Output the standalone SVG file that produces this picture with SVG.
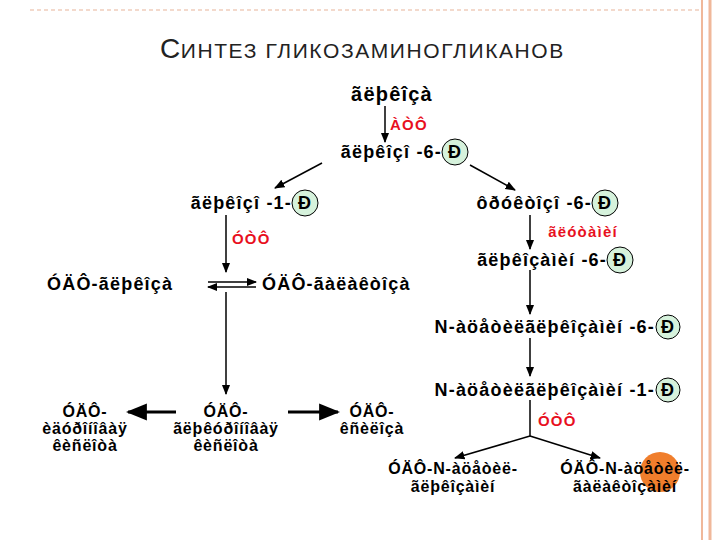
<svg xmlns="http://www.w3.org/2000/svg" width="720" height="540" viewBox="0 0 720 540">
<defs>
<marker id="a" viewBox="0 0 10 10" refX="9" refY="5" markerWidth="7" markerHeight="7" orient="auto-start-reverse"><path d="M0,1 L10,5 L0,9 z" fill="#000"/></marker>
<style>
text{font-family:"Liberation Sans",Arial,sans-serif;font-weight:bold;fill:#000;font-size:18px;letter-spacing:1.2px}
.r{fill:#e8101e;font-size:15px}
.s{font-size:16px;letter-spacing:0.8px}
.c{fill:#d6f2dc;stroke:#000;stroke-width:1}
.l{stroke:#000;stroke-width:1.5;fill:none}
</style>
</defs>
<rect width="720" height="540" fill="#fff"/>
<g id="deco">
<line x1="30" y1="10" x2="700" y2="10" stroke="#f3d9cc" stroke-width="2" stroke-dasharray="4 3"/>
<line x1="702" y1="0" x2="702" y2="540" stroke="#f0b89a" stroke-width="2"/>
<line x1="710" y1="0" x2="710" y2="540" stroke="#f0b89a" stroke-width="3"/>
<circle cx="660" cy="472" r="20" fill="#f07e2c"/>
</g>
<text x="160" y="58" style="font-weight:normal;font-size:28px;letter-spacing:0.5px;fill:#222">С<tspan style="font-size:21px;letter-spacing:1.6px">ИНТЕЗ ГЛИКОЗАМИНОГЛИКАНОВ</tspan></text>
<g id="connectors">
<line class="l" x1="385" y1="106" x2="385" y2="142" marker-end="url(#a)"/>
<line class="l" x1="322" y1="163" x2="275" y2="188" marker-end="url(#a)"/>
<line class="l" x1="470" y1="165" x2="515" y2="190" marker-end="url(#a)"/>
<line class="l" x1="226" y1="215" x2="226" y2="272" marker-end="url(#a)"/>
<line class="l" x1="530" y1="215" x2="530" y2="249" marker-end="url(#a)"/>
<line class="l" x1="208" y1="282" x2="256" y2="282" marker-end="url(#a)"/>
<line class="l" x1="256" y1="287" x2="208" y2="287" marker-end="url(#a)"/>
<line class="l" x1="226" y1="292" x2="226" y2="394" marker-end="url(#a)"/>
<line class="l" x1="530" y1="270" x2="530" y2="314" marker-end="url(#a)"/>
<line class="l" x1="530" y1="338" x2="530" y2="376" marker-end="url(#a)"/>
<polyline class="l" points="530,400 530,436"/>
<line class="l" x1="530" y1="436" x2="455" y2="458" marker-end="url(#a)"/>
<line class="l" x1="530" y1="436" x2="600" y2="458" marker-end="url(#a)"/>
<line stroke="#000" stroke-width="3" x1="176" y1="412" x2="128" y2="412" marker-end="url(#a)"/>
<line stroke="#000" stroke-width="3" x1="288" y1="412" x2="338" y2="412" marker-end="url(#a)"/>
<text class="r" x="390" y="130">ÀÒÔ</text>
<text class="r" x="232" y="244">ÓÒÔ</text>
<text class="r" x="583" y="237" text-anchor="middle">ãëóòàìèí</text>
<text class="r" x="538" y="426">ÓÒÔ</text>
</g>
<g id="glc"><text x="392" y="101" text-anchor="middle" style="font-size:20px">ãëþêîçà</text></g>
<g id="g6p"><text x="442" y="158" text-anchor="end">ãëþêîçî -6-</text><circle class="c" cx="455" cy="152" r="13"/><text x="455" y="158" text-anchor="middle">Ð</text></g>
<g id="g1p"><text x="292" y="209" text-anchor="end">ãëþêîçî -1-</text><circle class="c" cx="305" cy="203" r="13"/><text x="305" y="209" text-anchor="middle">Ð</text></g>
<g id="f6p"><text x="592" y="209" text-anchor="end">ôðóêòîçî -6-</text><circle class="c" cx="605" cy="203" r="13"/><text x="605" y="209" text-anchor="middle">Ð</text></g>
<g id="gn6p"><text x="607" y="266" text-anchor="end">ãëþêîçàìèí -6-</text><circle class="c" cx="620" cy="260" r="13"/><text x="620" y="266" text-anchor="middle">Ð</text></g>
<g id="udpglc"><text x="47" y="290">ÓÄÔ-ãëþêîçà</text></g>
<g id="udpgal"><text x="262" y="290">ÓÄÔ-ãàëàêòîçà</text></g>
<g id="nag6p"><text x="655" y="333" text-anchor="end">N-àöåòèëãëþêîçàìèí -6-</text><circle class="c" cx="668" cy="327" r="12"/><text x="668" y="333" text-anchor="middle">Ð</text></g>
<g id="nag1p"><text x="655" y="396" text-anchor="end">N-àöåòèëãëþêîçàìèí -1-</text><circle class="c" cx="668" cy="390" r="12"/><text x="668" y="396" text-anchor="middle">Ð</text></g>
<g id="udpido"><text class="s" x="85" y="417" text-anchor="middle">ÓÄÔ-</text><text class="s" x="85" y="434" text-anchor="middle">èäóðîíîâàÿ</text><text class="s" x="85" y="451" text-anchor="middle">êèñëîòà</text></g>
<g id="udpglcA"><text class="s" x="226" y="417" text-anchor="middle">ÓÄÔ-</text><text class="s" x="226" y="434" text-anchor="middle">ãëþêóðîíîâàÿ</text><text class="s" x="226" y="451" text-anchor="middle">êèñëîòà</text></g>
<g id="udpxyl"><text class="s" x="372" y="417" text-anchor="middle">ÓÄÔ-</text><text class="s" x="372" y="434" text-anchor="middle">êñèëîçà</text></g>
<g id="udpglcnac"><text class="s" x="453" y="474" text-anchor="middle">ÓÄÔ-N-àöåòèë-</text><text class="s" x="453" y="492" text-anchor="middle">ãëþêîçàìèí</text></g>
<g id="udpgalnac"><text class="s" x="625" y="474" text-anchor="middle">ÓÄÔ-N-àöåòèë-</text><text class="s" x="625" y="492" text-anchor="middle">ãàëàêòîçàìèí</text></g>
</svg>
